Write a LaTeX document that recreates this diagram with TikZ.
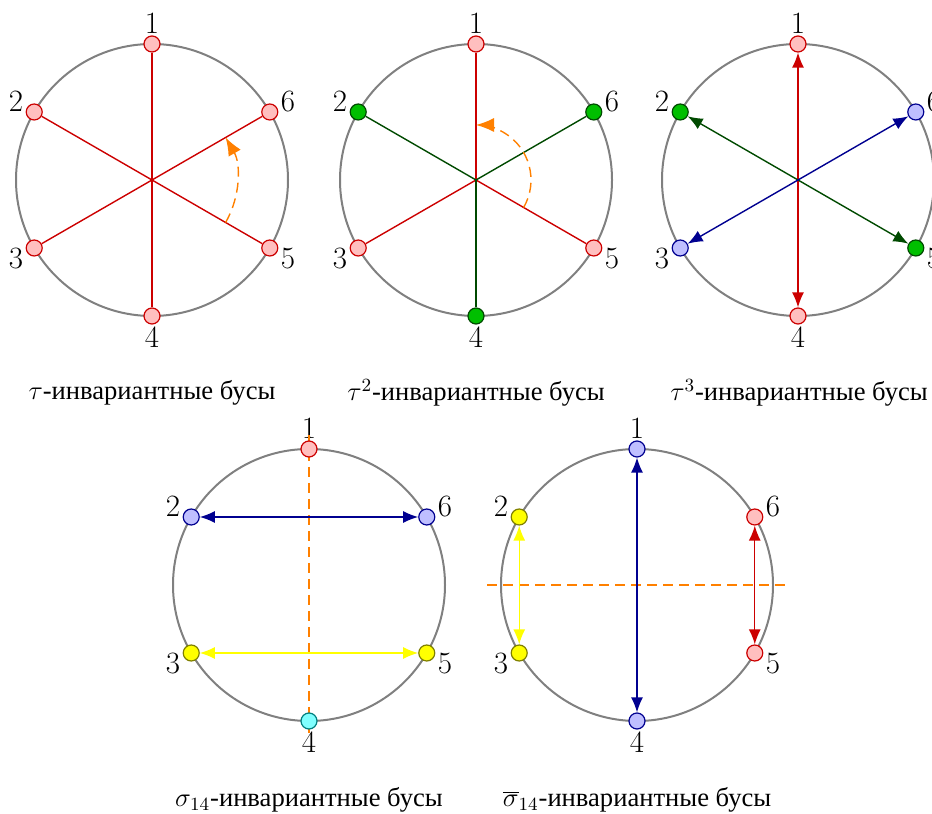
\RequirePackage{fix-cm}
\documentclass[tikz,border=0pt]{standalone}
\usepackage[no-math]{fontspec}
\setmainfont{Liberation Serif}
\newfontfamily\digitfont{Latin Modern Roman}
\usepackage{tikz}
\usetikzlibrary{arrows.meta,positioning,calc}
\definecolor{RingGray}{HTML}{808080}
\definecolor{LineRed}{HTML}{CC0000}
\definecolor{BeadRed}{HTML}{FFBFBF}
\definecolor{LineGreen}{HTML}{004A00}
\definecolor{BeadGreen}{HTML}{00BF00}
\definecolor{LineBlue}{HTML}{000090}
\definecolor{BeadBlue}{HTML}{BFBFFF}
\definecolor{LineYellow}{HTML}{FFFF00}
\definecolor{EdgeYellow}{HTML}{7F7F00}
\definecolor{BeadCyan}{HTML}{80FFFF}
\definecolor{EdgeCyan}{HTML}{007F7F}
\definecolor{Turn}{HTML}{FF8000}

\begin{document}
\begin{tikzpicture}[x=0.5pt,y=0.5pt,
    ring/.style={draw=RingGray,line width=1pt},
    bead/.style={circle,minimum size=8pt,inner sep=0pt,line width=0.6pt},
    redbead/.style={bead,draw=LineRed,fill=BeadRed},
    greenbead/.style={bead,draw=LineGreen,fill=BeadGreen},
    bluebead/.style={bead,draw=LineBlue,fill=BeadBlue},
    yellowbead/.style={bead,draw=EdgeYellow,fill=LineYellow},
    cyanbead/.style={bead,draw=EdgeCyan,fill=BeadCyan},
    num/.style={inner sep=0pt,font=\digitfont\fontsize{15.5}{18}\selectfont},
    twoway/.style={line width=0.7pt,{Latex[length=7.5pt,width=6pt]}-{Latex[length=7.5pt,width=6pt]}},
    turn/.style={draw=Turn,line width=0.7pt,dash pattern=on 5pt off 3pt,-{Latex[length=9pt,width=7pt]}},
    axis/.style={draw=Turn,line width=0.7pt,dash pattern=on 5pt off 3pt},
    caption/.style={font=\fontsize{13.3}{16}\selectfont}
]
\useasboundingbox (0,0) rectangle (932,814);

% centres of the five necklaces
\coordinate (tauO) at (152,634);
\coordinate (tausqO) at (476,634);
\coordinate (taucubO) at (798,634);
\coordinate (sigO) at (309,229);
\coordinate (sigbarO) at (637,229);

\foreach \p in {tau,tausq,taucub,sig,sigbar}{
  \draw[ring] (\p O) circle[radius=136];
  \foreach \k in {1,...,6}
    \node[num] (\p L\k) at ($(\p O)+({30+60*\k}:157)$) {\k};
}

% symmetry axes
\coordinate (sigtop) at ($(sigO)+(90:150)$);
\coordinate (sigbot) at ($(sigO)+(270:150)$);
\draw[axis] (sigtop) -- (sigbot);
\coordinate (sigbarW) at ($(sigbarO)+(180:150)$);
\coordinate (sigbarE) at ($(sigbarO)+(0:150)$);
\draw[axis] (sigbarW) -- (sigbarE);

% beads
\foreach \k in {1,...,6}
  \node[redbead] (tau\k) at ($(tauO)+({30+60*\k}:136)$) {};
\foreach \k/\st in {1/redbead,2/greenbead,3/redbead,4/greenbead,5/redbead,6/greenbead}
  \node[style=\st] (tausq\k) at ($(tausqO)+({30+60*\k}:136)$) {};
\foreach \k/\st in {1/redbead,2/greenbead,3/bluebead,4/redbead,5/greenbead,6/bluebead}
  \node[style=\st] (taucub\k) at ($(taucubO)+({30+60*\k}:136)$) {};
\foreach \k/\st in {1/redbead,2/bluebead,3/yellowbead,4/cyanbead,5/yellowbead,6/bluebead}
  \node[style=\st] (sig\k) at ($(sigO)+({30+60*\k}:136)$) {};
\foreach \k/\st in {1/bluebead,2/yellowbead,3/yellowbead,4/bluebead,5/redbead,6/redbead}
  \node[style=\st] (sigbar\k) at ($(sigbarO)+({30+60*\k}:136)$) {};

% tau
\draw[LineRed,line width=0.7pt] (tau1) -- (tau4);
\draw[LineRed,line width=0.7pt] (tau2) -- (tau5);
\draw[LineRed,line width=0.7pt] (tau3) -- (tau6);
\draw[turn] ($(tauO)+(-30:85)$) arc[start angle=-30,end angle=30,radius=85];

% tau^2
\foreach \k in {1,3,5}
  \draw[LineRed,line width=0.7pt] (tausqO) -- (tausq\k);
\foreach \k in {2,4,6}
  \draw[LineGreen,line width=0.7pt] (tausqO) -- (tausq\k);
\draw[turn] ($(tausqO)+(-30:55)$) arc[start angle=-30,end angle=90,radius=55];

% tau^3
\draw[twoway,LineRed] (taucub1) -- (taucub4);
\draw[twoway,LineGreen] (taucub2) -- (taucub5);
\draw[twoway,LineBlue] (taucub3) -- (taucub6);

% sigma_14
\draw[twoway,LineBlue] (sig2) -- (sig6);
\draw[twoway,LineYellow] (sig3) -- (sig5);

% bar sigma_14
\draw[twoway,LineBlue] (sigbar1) -- (sigbar4);
\draw[twoway,LineYellow] (sigbar2) -- (sigbar3);
\draw[twoway,LineRed] (sigbar6) -- (sigbar5);

% captions
\node[caption] (tauC) at (152,421) {$\tau$-инвариантные бусы};
\node[caption] (tausqC) at (476,421) {$\tau^2$-инвариантные бусы};
\node[caption] (taucubC) at (799,421) {$\tau^3$-инвариантные бусы};
\node[caption] (sigC) at (309,14) {$\sigma_{14}$-инвариантные бусы};
\node[caption] (sigbarC) at (637,14) {$\overline{\sigma}_{14}$-инвариантные бусы};
\end{tikzpicture}
\end{document}
